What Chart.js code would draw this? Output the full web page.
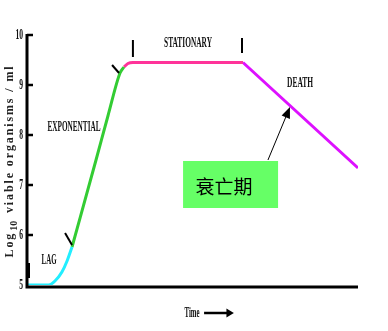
<!DOCTYPE html>
<html>
<head>
<meta charset="utf-8">
<script src="https://cdn.jsdelivr.net/npm/chart.js@4"></script>
<style>
html,body{margin:0;padding:0;background:#fff;}
#wrap{width:388px;height:331px;position:relative;}
</style>
</head>
<body>
<div id="wrap"><canvas id="c" width="388" height="331"></canvas></div>
<script>
// ---- data (time in arbitrary units, value = log10 viable organisms / ml) ----
const lagTime = [0, 1.3, 1.69, 2.11, 2.42, 2.72];
const lagLog  = [5.0, 5.0, 5.08, 5.26, 5.48, 5.76];
const expTime = [2.72, 4.17, 4.89, 5.62, 5.86];
const expLog  = [5.76, 7.5, 8.38, 9.24, 9.36];
const statTime = [5.86, 6.10, 6.40, 13.05];
const statLog  = [9.36, 9.43, 9.45, 9.45];
const deathTime = [13.05, 20];
const deathLog  = [9.45, 7.34];
const yTicks = [5, 6, 7, 8, 9, 10];
const phaseLabels = ['LAG', 'EXPONENTIAL', 'STATIONARY', 'DEATH'];
const boxLabel = '衰亡期';
const yTitle = ['Log', '10', ' viable organisms / ml'];
const xTitle = 'Time';

function pts(t, v){ return t.map((x,i)=>({x:x, y:v[i]})); }
function ds(t, v, color){
  return {data: pts(t,v), showLine:true, borderColor:color, backgroundColor:color,
    borderWidth:3, pointRadius:0, tension:0.3, cubicInterpolationMode:'monotone', fill:false};
}

function condText(ctx, txt, cx, cy, w, font, color){
  ctx.save();
  ctx.font = font;
  ctx.fillStyle = color || '#111';
  ctx.textAlign = 'center';
  ctx.textBaseline = 'middle';
  const m = ctx.measureText(txt).width;
  ctx.translate(cx, cy);
  ctx.scale(w / m, 1);
  ctx.fillText(txt, 0, 0);
  ctx.restore();
}

const decor = {
  id: 'decor',
  afterDatasetsDraw(chart){
    const ctx = chart.ctx, xs = chart.scales.x, ys = chart.scales.y, ca = chart.chartArea;
    const X = t => xs.getPixelForValue(t), Y = v => ys.getPixelForValue(v);
    ctx.save();
    // axes
    ctx.strokeStyle = '#000';
    ctx.lineWidth = 3;
    ctx.beginPath();
    ctx.moveTo(ca.left, Y(10) - 1);
    ctx.lineTo(ca.left, ca.bottom + 2);
    ctx.lineTo(ca.right, ca.bottom + 2);
    ctx.stroke();
    // inner tick marks + labels
    ctx.lineWidth = 2.5;
    ys.ticks.forEach(tk => {
      const y = Y(tk.value);
      if (tk.value !== 5) {
        ctx.beginPath(); ctx.moveTo(ca.left, y); ctx.lineTo(ca.left + 6, y); ctx.stroke();
      }
      const s = String(tk.value);
      condText(ctx, s, ca.left - 4 - (s.length * 3.8) / 2, y, s.length * 3.8, 'bold 14px "Liberation Serif"', '#111');
    });
    // phase markers
    ctx.lineWidth = 2;
    const seg = (t1,v1,t2,v2) => { ctx.beginPath(); ctx.moveTo(X(t1),Y(v1)); ctx.lineTo(X(t2),Y(v2)); ctx.stroke(); };
    seg(0.12, 5.44, 0.12, 5.14);
    seg(2.30, 6.04, 2.72, 5.80);
    seg(5.14, 9.40, 5.56, 9.24);
    seg(6.40, 9.90, 6.40, 9.56);
    seg(12.99, 9.94, 12.99, 9.64);
    // phase labels
    const f = 'bold 14px "Liberation Serif"';
    condText(ctx, phaseLabels[0], X(1.33), Y(5.5), 15, f);
    condText(ctx, phaseLabels[1], X(2.84), Y(8.16), 53, f);
    condText(ctx, phaseLabels[2], X(9.73), Y(9.84), 48, f);
    condText(ctx, phaseLabels[3], X(16.5), Y(9.04), 26, f);
    // green box
    const bx1 = X(9.43), bx2 = X(15.17), by1 = Y(7.48), by2 = Y(6.54);
    ctx.fillStyle = '#66FF66';
    ctx.fillRect(bx1, by1, bx2 - bx1, by2 - by1);
    ctx.fillStyle = '#000';
    ctx.font = '19px "Noto Sans CJK SC"';
    ctx.textAlign = 'center'; ctx.textBaseline = 'middle';
    ctx.fillText(boxLabel, X(11.9), Y(6.96));
    // arrow
    const ax1 = X(14.56), ay1 = Y(7.5), ax2 = X(15.89), ay2 = Y(8.56);
    const ang = Math.atan2(ay2 - ay1, ax2 - ax1);
    ctx.strokeStyle = '#000'; ctx.lineWidth = 1;
    ctx.beginPath(); ctx.moveTo(ax1, ay1); ctx.lineTo(ax2 - 8*Math.cos(ang), ay2 - 8*Math.sin(ang)); ctx.stroke();
    ctx.beginPath();
    ctx.moveTo(ax2, ay2);
    ctx.lineTo(ax2 - 11*Math.cos(ang) + 4.5*Math.sin(ang), ay2 - 11*Math.sin(ang) - 4.5*Math.cos(ang));
    ctx.lineTo(ax2 - 11*Math.cos(ang) - 4.5*Math.sin(ang), ay2 - 11*Math.sin(ang) + 4.5*Math.cos(ang));
    ctx.closePath(); ctx.fill();
    // x title with arrow
    const ty = ca.bottom + 28;
    condText(ctx, xTitle, X(9.97), ty, 15, 'bold 14px "Liberation Serif"');
    ctx.lineWidth = 2.5;
    ctx.beginPath(); ctx.moveTo(X(10.7), ty); ctx.lineTo(X(12.1), ty); ctx.stroke();
    ctx.beginPath();
    ctx.moveTo(X(12.5), ty); ctx.lineTo(X(12.05), ty - 4.5); ctx.lineTo(X(12.05), ty + 4.5); ctx.closePath(); ctx.fill();
    // y title (rotated, bold serif, with subscript)
    ctx.save();
    ctx.translate(9, Y(7.48));
    ctx.rotate(-Math.PI / 2);
    ctx.textBaseline = 'alphabetic';
    ctx.textAlign = 'left';
    const fb = 'bold 12px "Liberation Serif"', fs = 'bold 10px "Liberation Serif"';
    ctx.font = fb; const w0 = ctx.measureText(yTitle[0]).width;
    ctx.font = fs; const w1 = ctx.measureText(yTitle[1]).width + 2;
    ctx.font = fb; const w2 = ctx.measureText(yTitle[2]).width;
    const total = w0 + w1 + w2, target = 193, sp = Math.max(0, (target - total) / (yTitle[0].length + yTitle[2].length + 1));
    let x = -target / 2;
    ctx.fillStyle = '#222';
    ctx.font = fb;
    for (const ch of yTitle[0]) { ctx.fillText(ch, x, 4); x += ctx.measureText(ch).width + sp; }
    ctx.font = fs; ctx.fillText(yTitle[1], x + 1, 8); x += w1 + sp;
    ctx.font = fb;
    for (const ch of yTitle[2]) { ctx.fillText(ch, x, 4); x += ctx.measureText(ch).width + sp; }
    ctx.restore();
    ctx.restore();
  }
};

new Chart(document.getElementById('c'), {
  type: 'scatter',
  data: { datasets: [
    ds(lagTime, lagLog, '#22EEFF'),
    ds(expTime, expLog, '#33CC33'),
    ds(statTime, statLog, '#FF3399'),
    ds(deathTime, deathLog, '#DD11FF')
  ]},
  options: {
    responsive: false, animation: false,
    layout: { padding: { left: 0, right: 30, top: 35, bottom: 46 } },
    plugins: { legend: {display:false}, tooltip: {enabled:false} },
    scales: {
      x: { type:'linear', min:0, max:20, display:false },
      y: { type:'linear', min:5, max:10,
        afterBuildTicks: s => { s.ticks = yTicks.map(v => ({value:v})); },
        afterFit: s => { s.width = 27; },
        grid: {display:false, drawTicks:false}, border:{display:false},
        ticks: { display:false } }
    }
  },
  plugins: [decor]
});
</script>
</body>
</html>
